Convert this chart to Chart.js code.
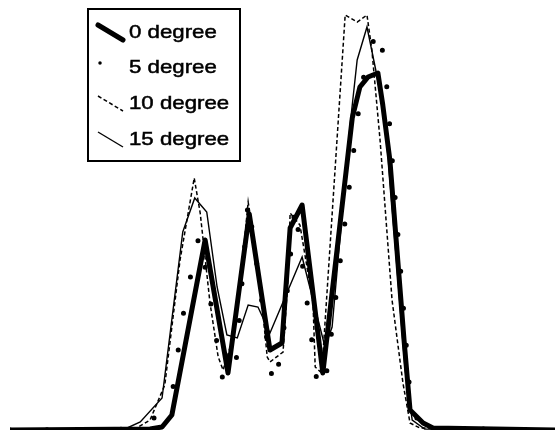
<!DOCTYPE html>
<html>
<head>
<meta charset="utf-8">
<script src="https://cdn.jsdelivr.net/npm/chart.js@4"></script>
<style>
	body { margin: 0; background: #fff; }
	canvas { display: block; }
</style>
</head>
<body>
<canvas id="myChart" width="559" height="433"></canvas>
<script>
	// series labels
	const labels = ['0 degree', '5 degree', '10 degree', '15 degree'];

	// position along the profile (0 - 100) and intensity for each series
	const deg0X = [0, 25.7, 27.9, 29.7, 35.8, 40.0, 43.9, 47.7, 49.9, 51.4, 53.6, 57.4, 62.8, 64.2, 65.7, 67.5, 68.4, 69.7, 71.0, 72.3, 73.4, 75.8, 77.6, 100];
	const deg0Y = [0, 0.25, 0.75, 3.75, 47.5, 14.25, 54, 20, 21.75, 50.5, 56.25, 14.25, 78, 85.75, 88.25, 89.25, 81.25, 67.5, 45, 22.5, 5, 1.75, 0.5, 0];

	const deg5X = [0, 23.9, 26.2, 29.9, 31.7, 34.3, 34.9, 39.1, 41.3, 43.7, 48.3, 49.9, 52.3, 56.5, 57.8, 64.2, 65.3, 67.5, 68.8, 73.4, 75.2, 100];
	const deg5Y = [0, 0.25, 2.5, 10.5, 28.25, 46.75, 48.5, 12, 13.5, 57.5, 10.75, 20, 56.25, 10, 11, 82.5, 91.75, 100.5, 91.75, 8.75, 0.5, 0];

	const deg10X = [0, 22.9, 25.7, 28.4, 31.2, 33.8, 34.9, 36.7, 38.2, 39.1, 40.4, 42.2, 43.7, 45.0, 46.4, 47.2, 47.7, 50.1, 51.0, 51.4, 53.2, 55.6, 56.0, 57.2, 61.5, 63.7, 65.5, 66.4, 67.9, 70.1, 72.1, 73.4, 75.2, 100];
	const deg10Y = [0, 0.25, 2.5, 11.25, 42.5, 63, 54.25, 31.75, 18.25, 15, 20.75, 35.75, 57, 45.75, 29.25, 18.25, 17, 19.5, 37.5, 54.25, 51.25, 31.75, 15.75, 14.25, 103.75, 102, 103.75, 95, 72.5, 32.5, 11.75, 1.75, 0.5, 0];

	const deg15X = [0, 21.1, 23.9, 27.9, 31.7, 33.9, 36.1, 38.0, 39.8, 41.7, 43.7, 45.5, 47.7, 53.6, 57.8, 59.1, 62.4, 63.7, 65.5, 67.3, 68.8, 70.6, 72.5, 73.8, 76.1, 100];
	const deg15Y = [0, 0.25, 2, 8, 49.5, 58, 54.5, 35.75, 23.75, 23, 31.25, 30.75, 24.25, 43.25, 20.75, 25.75, 76.25, 92.5, 100.75, 88.75, 77.5, 47.5, 15, 2.5, 0.25, 0];

	function pts(xs, ys) {
		return xs.map(function(x, i) { return { x: x, y: ys[i] }; });
	}

	// legend box drawn inside the plot, diagonal strokes like the original
	const boxLegend = {
		id: 'boxLegend',
		afterDraw: function(chart) {
			const c = chart.ctx;
			const sets = chart.data.datasets;
			c.save();
			c.fillStyle = '#fff';
			c.fillRect(88, 9, 152, 152);
			c.strokeStyle = '#000';
			c.lineWidth = 2;
			c.setLineDash([]);
			c.strokeRect(88, 9, 152, 152);

			const rowY = [38, 73, 109, 145];
			for (let i = 0; i < sets.length; i++) {
				const ds = sets[i];
				const top = rowY[i] - 13;
				c.save();
				c.strokeStyle = '#000';
				c.lineWidth = ds.borderWidth;
				c.lineCap = ds.borderCapStyle || 'butt';
				c.setLineDash(ds.borderDash || []);
				c.beginPath();
				if (i == 1) {
					c.moveTo(100, top + 3);
					c.lineTo(100.01, top + 3);
					c.lineWidth = 3.5;
					c.setLineDash([]);
				} else {
					c.moveTo(98, top);
					c.lineTo(123, top + 15);
				}
				c.stroke();
				c.restore();

				c.save();
				c.fillStyle = '#000';
				c.strokeStyle = '#000';
				c.lineWidth = 0.5;
				c.font = '19px "Liberation Sans", Arial, sans-serif';
				c.textBaseline = 'alphabetic';
				c.translate(129, rowY[i]);
				c.scale(1.17, 1);
				c.fillText(ds.label, 0, 0);
				c.strokeText(ds.label, 0, 0);
				c.restore();
			}
			c.restore();
		}
	};

	const ctx = document.getElementById("myChart").getContext("2d");

	const data = {
		datasets: [{
			label: labels[0],
			data: pts(deg0X, deg0Y),
			borderColor: '#000',
			borderWidth: 5,
			borderCapStyle: 'round',
			borderJoinStyle: 'round'
		}, {
			label: labels[1],
			data: pts(deg5X, deg5Y),
			borderColor: '#000',
			borderWidth: 5,
			borderDash: [0, 37],
			borderCapStyle: 'round'
		}, {
			label: labels[2],
			data: pts(deg10X, deg10Y),
			borderColor: '#000',
			borderWidth: 1.5,
			borderDash: [4, 2.5]
		}, {
			label: labels[3],
			data: pts(deg15X, deg15Y),
			borderColor: '#000',
			borderWidth: 1.4
		}]
	};

	const config = {
		type: 'line',
		data: data,
		options: {
			responsive: false,
			animation: false,
			layout: { padding: { left: 10, right: 4, top: 10, bottom: 3 } },
			elements: {
				point: { radius: 0 },
				line: { tension: 0, fill: false }
			},
			scales: {
				x: { type: 'linear', min: 0, max: 100, display: false },
				y: { min: 0, max: 105, display: false }
			},
			plugins: {
				legend: { display: false },
				tooltip: { enabled: false }
			}
		},
		plugins: [boxLegend]
	};

	const myChart = new Chart(ctx, config);
</script>
</body>
</html>
